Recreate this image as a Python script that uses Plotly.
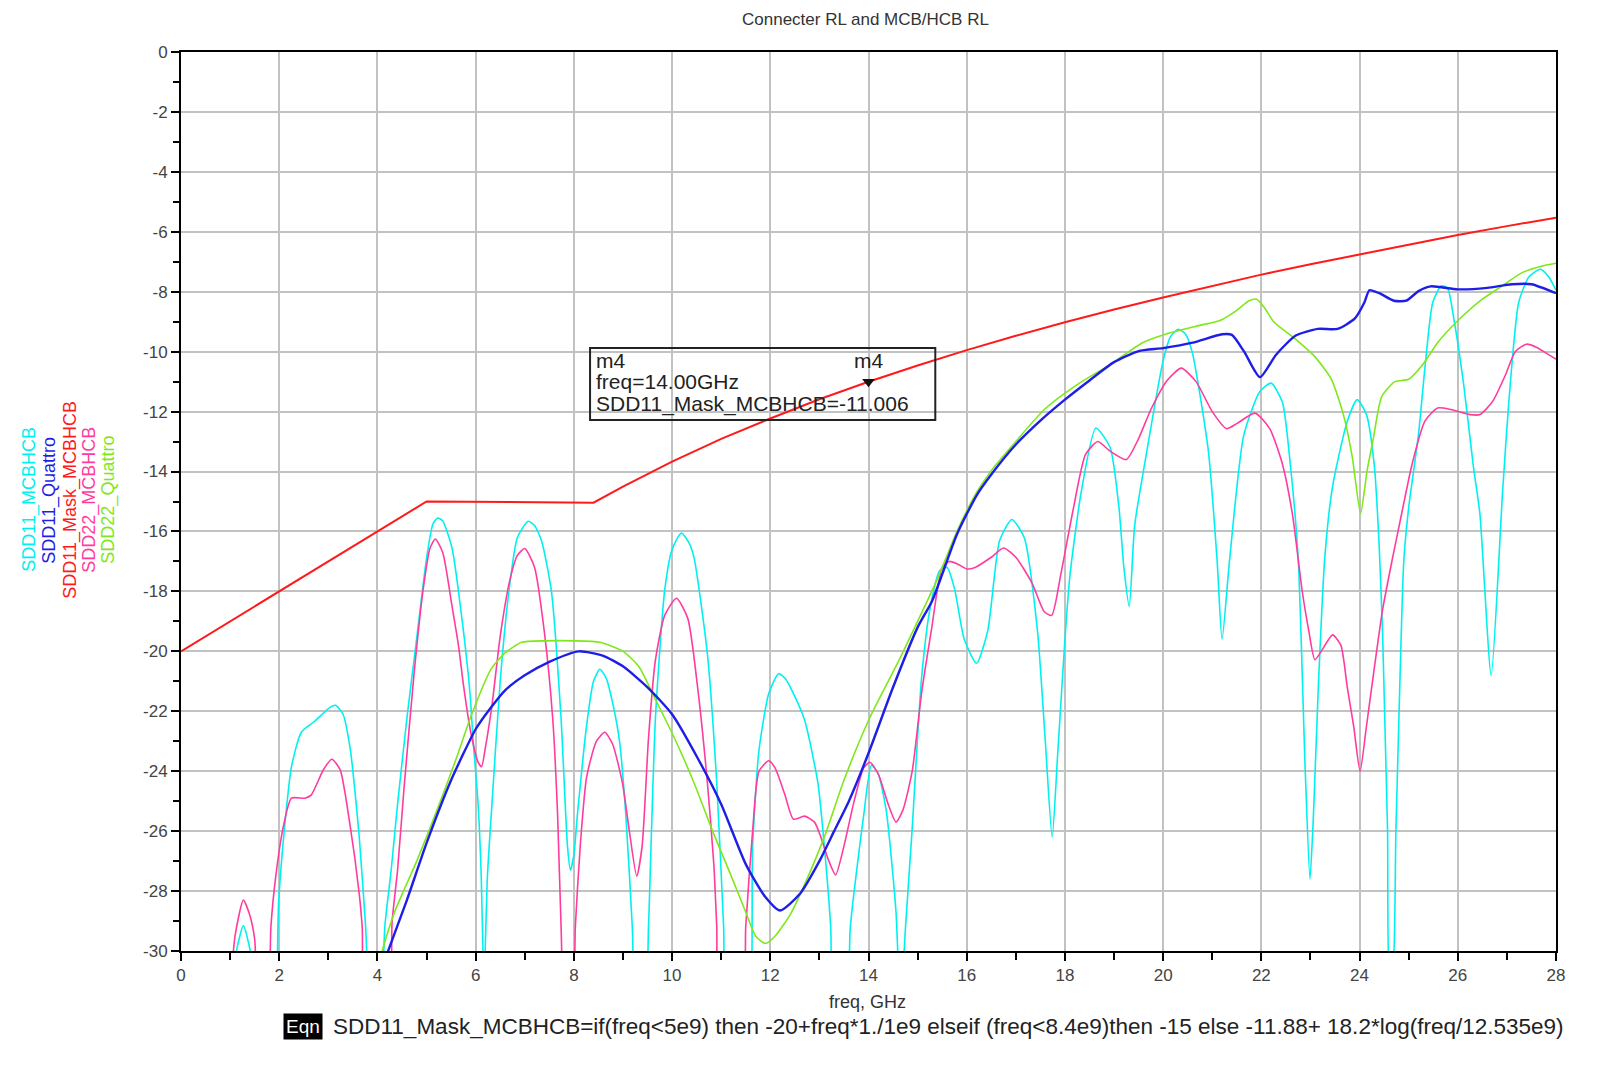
import plotly.graph_objects as go

# ---------------- data ----------------
x_ticks = [0, 2, 4, 6, 8, 10, 12, 14, 16, 18, 20, 22, 24, 26, 28]
x_tick_text = ["0", "2", "4", "6", "8", "10", "12", "14", "16", "18", "20", "22", "24", "26", "28"]
y_ticks = [0, -2, -4, -6, -8, -10, -12, -14, -16, -18, -20, -22, -24, -26, -28, -30]
y_tick_text = ["0", "-2", "-4", "-6", "-8", "-10", "-12", "-14", "-16", "-18", "-20",
               "-22", "-24", "-26", "-28", "-30"]

mask_freq = [0, 5, 8.4, 9, 10, 11, 12, 13, 14, 15, 16, 17, 18, 19, 20, 21, 22, 23, 24, 25, 26, 27, 28]
mask_db = [-20.0, -15.0, -15.04, -14.50, -13.67, -12.91, -12.23, -11.59, -11.006, -10.46, -9.95,
           -9.47, -9.02, -8.59, -8.19, -7.80, -7.43, -7.08, -6.75, -6.42, -6.11, -5.81, -5.53]

quattro11_freq = [4.15, 4.6, 5.0, 5.5, 6.0, 6.3, 6.6, 7.0, 7.5, 8.1, 8.6, 9.0, 9.5, 10.0, 10.5,
                  11.0, 11.5, 11.9, 12.2, 12.6, 13.0, 13.3, 13.6, 14.0, 14.5, 15.0, 15.3, 15.8,
                  16.2, 16.5, 17.0, 17.5, 18.0, 18.5, 19.0, 19.5, 20.0, 20.6, 21.2, 21.4, 21.65,
                  21.97, 22.3, 22.7, 23.15, 23.55, 23.9, 24.1, 24.2, 24.4, 24.7, 24.95, 25.2,
                  25.45, 26.0, 26.6, 27.1, 27.5, 28.0]
quattro11_db = [-30.3, -28.3, -26.4, -24.3, -22.6, -21.9, -21.3, -20.8, -20.35, -20.0, -20.15,
                -20.5, -21.2, -22.1, -23.5, -25.1, -27.1, -28.2, -28.65, -28.1, -27.0, -26.0,
                -25.0, -23.4, -21.2, -19.2, -18.3, -16.1, -14.8, -14.1, -13.1, -12.3, -11.6,
                -10.96, -10.35, -9.98, -9.88, -9.7, -9.42, -9.44, -10.0, -10.85, -10.1, -9.46,
                -9.24, -9.24, -8.9, -8.35, -7.95, -8.05, -8.3, -8.3, -7.98, -7.82, -7.92,
                -7.87, -7.75, -7.75, -8.05]

quattro22_freq = [4.02, 4.1, 4.35, 4.8, 5.26, 5.6, 5.92, 6.31, 6.6, 6.94, 7.4, 8.0, 8.53, 9.0,
                  9.32, 9.66, 10.05, 10.45, 10.85, 11.18, 11.5, 11.7, 11.9, 12.1, 12.4, 12.64,
                  13.1, 13.5, 14.03, 14.62, 15.0, 15.4, 15.8, 16.2, 16.5, 17.0, 17.58, 18.25,
                  18.92, 19.58, 20.08, 20.67, 21.17, 21.5, 21.75, 21.9, 22.05, 22.25, 22.67,
                  23.08, 23.42, 23.67, 23.85, 24.02, 24.15, 24.28, 24.45, 24.72, 25.0, 25.3,
                  25.6, 26.0, 26.5, 26.9, 27.3, 27.7, 28.0]
quattro22_db = [-31.0, -30.0, -28.7, -27.0, -25.1, -23.6, -22.1, -20.6, -20.05, -19.7, -19.65,
                -19.65, -19.7, -20.0, -20.5, -21.6, -22.9, -24.4, -26.1, -27.4, -28.7, -29.5,
                -29.75, -29.5, -28.8, -28.0, -26.2, -24.3, -22.2, -20.3, -19.0, -17.6, -16.0,
                -14.7, -13.97, -13.0, -11.93, -11.1, -10.43, -9.7, -9.4, -9.15, -8.95, -8.62,
                -8.3, -8.25, -8.5, -9.0, -9.55, -10.15, -10.9, -12.1, -13.5, -15.4, -14.0,
                -12.9, -11.5, -11.0, -10.92, -10.4, -9.68, -8.97, -8.25, -7.81, -7.37, -7.15,
                -7.05]

mcbhcb11_freq = [1.0, 1.13, 1.27, 1.41, 1.55, 1.85, 1.99, 2.09, 2.25, 2.45, 2.71, 3.04, 3.15,
                 3.3, 3.45, 3.55, 3.63, 3.76, 3.85, 4.05, 4.15, 4.28, 4.41, 4.61, 4.8, 5.0,
                 5.13, 5.23, 5.33, 5.52, 5.72, 5.88, 5.95, 6.05, 6.11, 6.17, 6.24, 6.34, 6.5,
                 6.68, 6.85, 7.07, 7.2, 7.34, 7.54, 7.74, 7.87, 7.93, 8.0, 8.07, 8.26, 8.4,
                 8.53, 8.66, 8.8, 8.93, 9.06, 9.19, 9.3, 9.42, 9.52, 9.66, 9.85, 10.0, 10.19,
                 10.35, 10.45, 10.72, 10.91, 11.05, 11.15, 11.5, 11.64, 11.77, 11.97, 12.17,
                 12.3, 12.44, 12.7, 12.97, 13.1, 13.23, 13.32, 13.52, 13.63, 13.9, 14.06, 14.2,
                 14.36, 14.56, 14.65, 14.75, 14.89, 15.08, 15.25, 15.45, 15.6, 15.75, 15.95,
                 16.2, 16.43, 16.67, 16.92, 17.17, 17.44, 17.6, 17.74, 17.85, 18.0, 18.1, 18.33,
                 18.63, 18.92, 19.1, 19.2, 19.31, 19.42, 19.67, 20.0, 20.15, 20.3, 20.45, 20.59,
                 20.92, 21.1, 21.2, 21.35, 21.64, 21.97, 22.2, 22.43, 22.58, 22.75, 22.89, 22.99,
                 23.06, 23.16, 23.29, 23.45, 23.75, 23.95, 24.14, 24.3, 24.4, 24.47, 24.51, 24.57,
                 24.62, 24.66, 24.74, 24.8, 24.9, 25.0, 25.2, 25.33, 25.49, 25.66, 25.79, 25.92,
                 26.12, 26.32, 26.45, 26.68, 26.91, 27.04, 27.24, 27.45, 27.68, 27.85, 28.0]
mcbhcb11_db = [-32.0, -30.0, -29.15, -30.0, -32.5, -33.0, -28.3, -26.2, -23.85, -22.7, -22.35,
               -21.86, -21.8, -22.1, -23.3, -24.8, -26.2, -29.2, -32.0, -33.0, -29.2, -27.3,
               -25.1, -22.1, -19.56, -16.9, -15.75, -15.55, -15.65, -16.56, -18.9, -21.3, -23.0,
               -25.1, -27.3, -31.0, -27.5, -24.9, -21.0, -17.96, -16.2, -15.66, -15.8, -16.3,
               -17.96, -22.26, -26.5, -27.3, -26.8, -25.5, -22.47, -21.0, -20.6, -20.9, -21.8,
               -23.0, -25.5, -29.2, -33.0, -33.0, -29.2, -22.26, -17.96, -16.6, -16.05, -16.4,
               -16.9, -20.1, -24.4, -29.2, -33.0, -33.0, -26.5, -23.3, -21.4, -20.75, -20.9,
               -21.3, -22.3, -24.4, -26.5, -29.2, -33.0, -33.0, -29.2, -25.5, -23.8, -24.1,
               -25.3, -28.7, -32.0, -29.3, -25.9, -20.9, -18.6, -17.3, -17.2, -17.9, -19.6,
               -20.4, -19.3, -16.3, -15.6, -16.2, -19.3, -23.0, -26.2, -23.5, -19.6, -17.5,
               -14.7, -12.55, -13.2, -15.2, -17.2, -18.5, -15.8, -13.3, -10.3, -9.5, -9.25,
               -9.4, -10.0, -13.3, -17.0, -19.6, -17.0, -12.8, -11.33, -11.05, -11.7, -13.6,
               -16.9, -23.8, -27.6, -25.5, -21.2, -16.9, -14.5, -12.32, -11.6, -12.1, -13.8,
               -16.5, -19.5, -22.05, -26.0, -31.0, -31.0, -26.0, -22.3, -17.0, -15.2, -12.76,
               -10.56, -8.36, -7.81, -7.87, -8.91, -11.1, -13.86, -15.4, -20.8, -14.74, -11.66,
               -8.36, -7.5, -7.25, -7.5, -7.95]

mcbhcb22_freq = [1.0, 1.1, 1.27, 1.4, 1.5, 1.6, 1.75, 1.83, 1.93, 2.09, 2.25, 2.52, 2.65, 2.9,
                 3.07, 3.24, 3.43, 3.63, 3.69, 3.78, 4.2, 4.3, 4.41, 4.54, 4.74, 4.93, 5.07,
                 5.18, 5.33, 5.52, 5.65, 5.75, 5.9, 6.05, 6.12, 6.2, 6.34, 6.5, 6.7, 6.85, 7.0,
                 7.2, 7.4, 7.57, 7.67, 7.74, 7.85, 7.95, 8.03, 8.13, 8.26, 8.46, 8.63, 8.79,
                 8.99, 9.13, 9.28, 9.39, 9.52, 9.66, 9.85, 10.09, 10.32, 10.52, 10.72, 10.85,
                 10.91, 11.0, 11.4, 11.5, 11.64, 11.77, 11.97, 12.1, 12.3, 12.47, 12.7, 12.9,
                 13.03, 13.17, 13.33, 13.5, 13.7, 13.9, 14.03, 14.2, 14.4, 14.56, 14.7, 14.89,
                 15.08, 15.28, 15.5, 15.65, 15.83, 16.0, 16.17, 16.5, 16.75, 17.0, 17.33, 17.58,
                 17.73, 17.92, 18.17, 18.42, 18.67, 18.92, 19.25, 19.5, 19.75, 20.08, 20.37,
                 20.67, 21.0, 21.29, 21.5, 21.87, 22.17, 22.42, 22.63, 22.83, 22.96, 23.09,
                 23.22, 23.45, 23.62, 23.75, 23.88, 24.01, 24.14, 24.28, 24.47, 24.67, 24.87,
                 25.07, 25.33, 25.59, 25.86, 26.25, 26.45, 26.71, 26.97, 27.17, 27.4, 27.6,
                 27.8, 28.0]
mcbhcb22_db = [-31.5, -29.5, -28.3, -28.8, -29.6, -32.0, -32.0, -29.2, -27.5, -25.8, -24.9,
               -24.9, -24.8, -23.95, -23.6, -23.95, -25.67, -28.1, -29.2, -32.0, -32.0, -29.0,
               -27.3, -24.6, -20.85, -17.95, -16.56, -16.25, -16.7, -18.5, -19.8, -21.1, -22.7,
               -23.7, -23.85, -23.2, -21.7, -19.5, -17.6, -16.8, -16.57, -17.2, -19.36, -22.26,
               -25.5, -29.2, -33.0, -33.0, -29.2, -26.5, -24.2, -23.0, -22.7, -23.1, -24.4,
               -26.0, -27.5, -26.5, -22.9, -20.3, -18.8, -18.23, -18.9, -21.2, -24.4, -27.1,
               -29.2, -33.0, -33.0, -29.2, -26.0, -24.0, -23.65, -23.9, -24.8, -25.6, -25.5,
               -25.7, -26.2, -26.9, -27.46, -26.5, -25.05, -23.9, -23.7, -24.1, -25.1, -25.7,
               -25.3, -24.0, -21.4, -19.3, -17.2, -17.0, -17.1, -17.25, -17.2, -16.86, -16.55,
               -16.86, -17.72, -18.68, -18.8, -17.4, -15.25, -13.43, -13.0, -13.32, -13.6,
               -12.9, -11.93, -10.96, -10.55, -11.0, -12.0, -12.57, -12.4, -12.05, -12.57,
               -13.7, -15.4, -17.97, -19.26, -20.28, -20.0, -19.45, -19.8, -21.2, -22.5, -24.0,
               -22.5, -20.8, -18.6, -16.9, -15.3, -13.75, -12.32, -11.88, -11.93, -12.1, -12.1,
               -11.66, -10.78, -10.0, -9.75, -9.85, -10.05, -10.25]

marker_freq = [14.0]
marker_db = [-11.006]
marker_lines = ["m4", "freq=14.00GHz", "SDD11_Mask_MCBHCB=-11.006"]

series_names = ["SDD11_MCBHCB", "SDD11_Quattro", "SDD11_Mask_MCBHCB", "SDD22_MCBHCB", "SDD22_Quattro"]

# ---------------- styles ----------------
C_CYAN = "#00F0F0"
C_BLUE = "#1E1EE6"
C_RED = "#FF1A1A"
C_PINK = "#FF3C9E"
C_GREEN = "#7FE81A"
FONT = "Liberation Sans, Arial, sans-serif"

fig = go.Figure()
fig.add_trace(go.Scatter(x=mcbhcb11_freq, y=mcbhcb11_db, mode="lines", name=series_names[0],
                         line=dict(color=C_CYAN, width=1.6, shape="spline", smoothing=0.6)))
fig.add_trace(go.Scatter(x=mcbhcb22_freq, y=mcbhcb22_db, mode="lines", name=series_names[3],
                         line=dict(color=C_PINK, width=1.6, shape="spline", smoothing=0.6)))
fig.add_trace(go.Scatter(x=quattro22_freq, y=quattro22_db, mode="lines", name=series_names[4],
                         line=dict(color=C_GREEN, width=1.6, shape="spline", smoothing=0.6)))
fig.add_trace(go.Scatter(x=quattro11_freq, y=quattro11_db, mode="lines", name=series_names[1],
                         line=dict(color=C_BLUE, width=2.4, shape="spline", smoothing=0.6)))
fig.add_trace(go.Scatter(x=mask_freq, y=mask_db, mode="lines", name=series_names[2],
                         line=dict(color=C_RED, width=2)))
fig.add_trace(go.Scatter(x=marker_freq, y=marker_db, mode="markers",
                         marker=dict(symbol="triangle-down", size=11, color="#111"),
                         showlegend=False, cliponaxis=False))

axis_common = dict(showline=True, linecolor="black", linewidth=2, mirror=True,
                   showgrid=True, gridcolor="#C2C2C2", gridwidth=1.6, zeroline=False,
                   ticks="outside", tickcolor="black", tickwidth=2, ticklen=8,
                   tickfont=dict(family=FONT, size=17, color="#444"))

fig.update_xaxes(range=[0, 28], tickvals=x_ticks, ticktext=x_tick_text,
                 minor=dict(dtick=1, tick0=0, ticks="outside", ticklen=7, tickwidth=2,
                            tickcolor="black", showgrid=False),
                 **axis_common)
fig.update_yaxes(range=[-30, 0], tickvals=y_ticks, ticktext=y_tick_text,
                 minor=dict(dtick=1, tick0=0, ticks="outside", ticklen=6, tickwidth=2,
                            tickcolor="black", showgrid=False),
                 **axis_common)

# marker readout box
fig.add_shape(type="rect", xref="x", yref="y", x0=8.33, x1=15.36, y0=-12.28, y1=-9.88,
              line=dict(color="#222", width=2), fillcolor="rgba(0,0,0,0)")
annotations = []
for txt, ly in zip(marker_lines, [-10.28, -10.98, -11.75]):
    annotations.append(dict(xref="x", yref="y", x=8.4, y=ly, xanchor="left", yanchor="middle",
                            align="left", showarrow=False, text=txt,
                            font=dict(family=FONT, size=21, color="#222")))
annotations += [
    dict(xref="x", yref="y", x=14.0, y=-10.28, xanchor="center", yanchor="middle",
         showarrow=False, text="m4", font=dict(family=FONT, size=21, color="#222")),
    dict(xref="paper", yref="paper", x=0.498, y=1.036, xanchor="center", yanchor="middle",
         showarrow=False, text="Connecter RL and MCB/HCB RL",
         font=dict(family=FONT, size=17, color="#333")),
    dict(xref="paper", yref="paper", x=0.4996, y=-0.057, xanchor="center", yanchor="middle",
         showarrow=False, text="freq, GHz", font=dict(family=FONT, size=18, color="#333")),
    dict(xref="paper", yref="paper", x=0.0742, y=-0.084, xanchor="left", yanchor="middle",
         showarrow=False, text="Eqn", bgcolor="black", borderpad=2,
         font=dict(family=FONT, size=19, color="white")),
    dict(xref="paper", yref="paper", x=0.1091, y=-0.084, xanchor="left", yanchor="middle",
         showarrow=False,
         text="SDD11_Mask_MCBHCB=if(freq&lt;5e9) then -20+freq*1./1e9 elseif (freq&lt;8.4e9)then -15 else -11.88+ 18.2*log(freq/12.535e9)",
         font=dict(family=FONT, size=22.5, color="#222")),
]
legend_x = [-0.1098, -0.0953, -0.0800, -0.0662, -0.0524]
legend_colors = [C_CYAN, C_BLUE, C_RED, C_PINK, C_GREEN]
for name, lx, col in zip(series_names, legend_x, legend_colors):
    annotations.append(dict(xref="paper", yref="paper", x=lx, y=0.502, xanchor="center",
                            yanchor="middle", showarrow=False, textangle=-90, text=name,
                            font=dict(family=FONT, size=18, color=col)))

fig.update_layout(width=1614, height=1067, paper_bgcolor="white", plot_bgcolor="white",
                  margin=dict(l=173, r=66, t=44, b=124), showlegend=False,
                  annotations=annotations)

fig.write_html("out.html")
